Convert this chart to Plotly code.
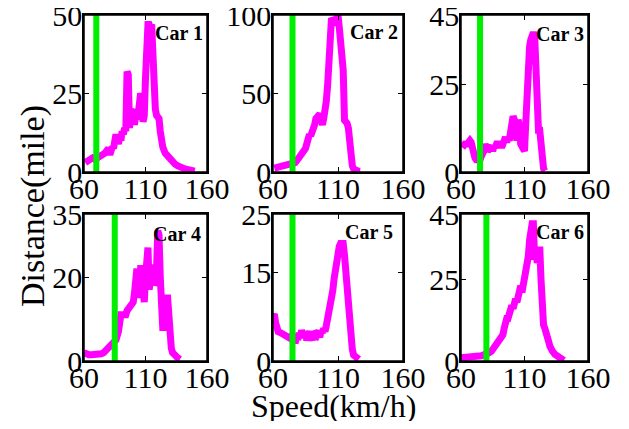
import plotly.graph_objects as go

# ---------------- data ----------------
car_names = ["Car 1", "Car 2", "Car 3", "Car 4", "Car 5", "Car 6"]

speed_1 = [61,63,65,67,69,71,73,75,77,79,80,81,82,83,84,85,86,87,88,89,90,91,92,93,94,95,96,97,98,99,100,
           101,102,103,104,105,106,107,108,109,110,111,112,113,114,115,116,117,118,119,120,121,122,123,124,
           126,128,130,132,134,136,138,140,142,144,146,148,150]
dist_1 = [3,3.5,4,4.5,4,4.5,4.5,5,6,7,7.5,5.5,7,8,7.5,12,12,10,9,11,10,13,12,14,13,32,31,14,20,19,20,
          15,18,17,18,24,25,24,16,18,30,47,47,47,46,47,35,25,20,18,17,17,13,10,8,
          6,5,4,3,2.5,2,1.5,1.2,1,0.8,0.6,0.5,0.3]

speed_2 = [61,63,65,67,69,71,73,75,77,79,81,83,85,86,87,88,89,90,91,92,93,94,95,96,97,98,99,100,
           101,102,103,104,105,106,107,108,109,110,111,112,113,114,115,116,117,118,119,120,121,122,123,125,127]
dist_2 = [2.5,3,3.5,4,4,4.5,5,5.5,6,8,10,12,15,18,24,24,23,25,26,30,34,35,36,37,33,30,34,38,
          45,55,70,85,98,97,95,94,97,100,92,85,75,65,33,32,31,28,15,8,4,2,1,0.7,0.5]

speed_3 = [61,62,63,65,67,68,69,70,71,72,73,74,75,76,77,78,79,80,81,82,83,84,85,86,87,88,89,90,91,92,93,
           94,95,96,97,98,99,100,101,102,103,104,105,106,107,108,109,110,111,112,113,114,115,116,117,118,
           119,120,121,122,123,124,125,126]
dist_3 = [7,7.5,8,8,9,8.5,6,5,4,3.5,3.5,3.5,3.5,4.5,5,6,8,7,6,6.5,7,7.5,6,7.5,7,8,8,8,8,7,8,
          9,10,8.5,10,9,12,16,16,15,12,9,15,13,8,7,6.5,6,14,25,36,36,38,40,40,39,
          25,13,12,12,7,3,1,0.3]

speed_4 = [60,62,64,66,68,70,72,74,76,78,80,82,84,86,88,89,90,92,94,95,96,97,98,99,100,101,102,103,104,
           105,106,107,108,109,110,111,112,113,114,115,116,117,118,119,120,121,122,123,124,125,126,127,128,
           129,130,131,132,134,136,138]
dist_4 = [2,1.5,1.5,1.5,1.5,1.5,1.5,1.7,2,2.5,3,3.5,4,5,7,10,11,11,11,12,12.5,13,13.5,14,14,16,22,22,15,
          22,22,22,16,14,20,27,27,17,20,23,23,18,19,22,31,30,20,10,8,8,15,15,15,
          8,4,3,2,1,0.8,0.4]

speed_5 = [60,61,62,63,64,66,68,70,72,73,74,75,76,77,78,79,80,81,82,83,84,85,86,87,88,89,90,91,92,93,94,
           95,96,97,98,99,100,101,102,103,104,105,106,107,108,109,110,111,112,113,114,115,116,117,118,119,
           120,121,122,124,126]
dist_5 = [7.5,8,6.5,5.5,5,4.8,4.5,4.2,4,4.5,3.8,4.5,3.5,3,4,3.6,4.8,4,5.2,4.5,4,5,3.5,4.5,5,4,4,3.6,5,4.8,4.5,
          5,4,5.2,4.8,5.5,5,6,7,8,9,10.5,12,14,16,17,18.5,19.5,20,20,20,18,15,12,8,6,
          3.5,2,1,0.5,0.3]

speed_6 = [60,62,64,66,68,70,72,74,76,78,80,82,84,86,88,90,92,93,94,95,96,97,98,99,100,101,102,103,104,
           105,106,107,108,109,110,111,112,113,114,115,116,117,118,119,120,121,122,123,124,125,126,127,128,
           129,130,131,132,134,136,138,140,141]
dist_6 = [1,1,1.2,1.2,1.2,1.4,1.5,1.5,1.6,1.8,2,2.5,3,4,5,6,7,8,10,12,13,13,14,15,17,16,17,19,18,
          20,21,23,21,23,24,27,28,32,37,42,42,42,31,35,30,35,35,25,12,11,10,9,7,
          6,4.5,3.5,3,2,1.5,1,0.5,0.2]

speeds = [speed_1, speed_2, speed_3, speed_4, speed_5, speed_6]
dists = [dist_1, dist_2, dist_3, dist_4, dist_5, dist_6]

threshold_speed = [70, 75, 75, 85, 75, 80]
y_max = [50, 100, 45, 35, 25, 45]
y_ticks = [[0, 25, 50], [0, 50, 100], [0, 25, 45], [0, 20, 35], [0, 15, 25], [0, 25, 45]]
x_ticks = [60, 110, 160]
x_range = [60, 160]

# ---------------- layout geometry (page pixels, page has an 8px body margin) ----------------
OFF = 8
W, H = 629 - 2 * OFF, 429 - 2 * OFF
col_px = [(84, 207), (273, 403), (461, 588)]
row_px = [(15, 172), (214, 361)]
label_pos = [(205, 33), (400, 32), (586, 34), (203, 234), (395, 232), (586, 232)]


def fx(px):
    return (px - OFF) / W


def fy(py):
    return (H - (py - OFF)) / H


FONT = "Liberation Serif"
fig = go.Figure()
layout = {}
for i in range(6):
    r, c = divmod(i, 3)
    n = "" if i == 0 else str(i + 1)
    xa, ya = "x" + n, "y" + n
    x0, x1 = col_px[c]
    t0, t1 = row_px[r]
    axis_common = dict(showline=True, linecolor="#000000", linewidth=1.5, mirror="ticks",
                       ticks="inside", ticklen=5, tickcolor="#000000", tickwidth=1.2,
                       showgrid=False, zeroline=False, automargin=False,
                       ticklabeloverflow="allow",
                       tickfont=dict(family=FONT, size=30, color="black"))
    layout["xaxis" + n] = dict(axis_common, domain=[fx(x0), fx(x1)], range=x_range,
                               tickvals=x_ticks, anchor=ya, ticklabelstandoff=-11)
    layout["yaxis" + n] = dict(axis_common, domain=[fy(t1), fy(t0)],
                               range=[0, y_max[i]], tickvals=y_ticks[i], anchor=xa,
                               ticklabelstandoff=-6)
    fig.add_trace(go.Scatter(x=speeds[i], y=dists[i], mode="lines",
                             line=dict(color="#ff00ff", width=7), xaxis=xa, yaxis=ya,
                             showlegend=False, hoverinfo="skip"))
    fig.add_trace(go.Scatter(x=[threshold_speed[i], threshold_speed[i]], y=[0, y_max[i]],
                             mode="lines", line=dict(color="#00ee00", width=6),
                             xaxis=xa, yaxis=ya, showlegend=False, hoverinfo="skip"))
    # frame around each subplot, traced along the axis ranges
    fig.add_trace(go.Scatter(x=[x_range[0], x_range[1], x_range[1], x_range[0], x_range[0]],
                             y=[0, 0, y_max[i], y_max[i], 0], mode="lines",
                             line=dict(color="#000000", width=1.5), cliponaxis=False,
                             xaxis=xa, yaxis=ya, showlegend=False, hoverinfo="skip"))

annotations = []
for i in range(6):
    lx, ly = label_pos[i]
    annotations.append(dict(text="<b>" + car_names[i] + "</b>", xref="paper", yref="paper",
                            x=fx(lx), y=fy(ly), xanchor="right", yanchor="middle",
                            showarrow=False, font=dict(family=FONT, size=20, color="black")))
annotations.append(dict(text="Distance(mile)", xref="paper", yref="paper", x=fx(33),
                        y=fy(206), xanchor="center", yanchor="middle", textangle=-90,
                        showarrow=False, font=dict(family=FONT, size=34, color="black")))
annotations.append(dict(text="Speed(km/h)", xref="paper", yref="paper", x=fx(333),
                        y=fy(406), xanchor="center", yanchor="middle",
                        showarrow=False, font=dict(family=FONT, size=32, color="black")))

fig.update_layout(width=W, height=H, margin=dict(l=0, r=0, t=0, b=0),
                  paper_bgcolor="white", plot_bgcolor="white",
                  annotations=annotations, **layout)
fig.write_html("out.html")
